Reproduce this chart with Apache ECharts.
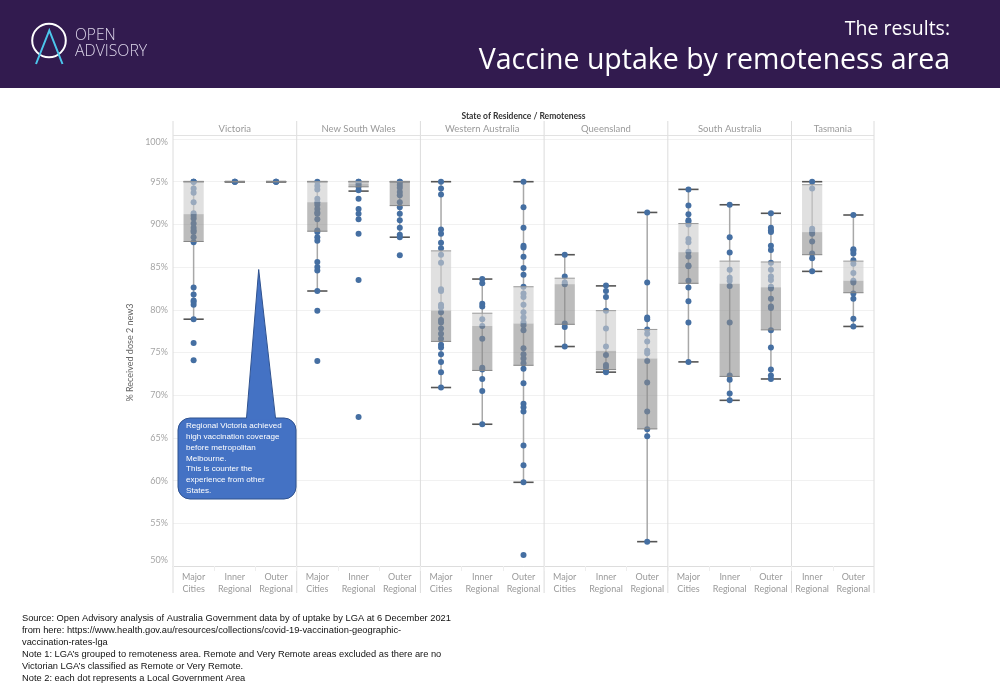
<!DOCTYPE html>
<html><head><meta charset="utf-8">
<script src="https://cdn.jsdelivr.net/npm/echarts@6/dist/echarts.min.js"></script>
<style>html,body{margin:0;padding:0;background:#fff}#c{width:1000px;height:694px}</style>
</head><body><div id="c"></div>
<script>
// ---------- data ----------
const states = ['Victoria', 'New South Wales', 'Western Australia', 'Queensland', 'South Australia', 'Tasmania'];
const stateColumnCounts = [3, 3, 3, 3, 3, 2];
const columnLabels = [
  'Major\nCities', 'Inner\nRegional', 'Outer\nRegional',
  'Major\nCities', 'Inner\nRegional', 'Outer\nRegional',
  'Major\nCities', 'Inner\nRegional', 'Outer\nRegional',
  'Major\nCities', 'Inner\nRegional', 'Outer\nRegional',
  'Major\nCities', 'Inner\nRegional', 'Outer\nRegional',
  'Inner\nRegional', 'Outer\nRegional'
];
const yTicks = [50, 55, 60, 65, 70, 75, 80, 85, 90, 95, 100];

// box plot statistics per column (same order as columnLabels)
const whiskerLow  = [78.9, 95, 95, 82.2, 93.9, 88.5, 70.9, 66.6, 59.8, 75.7, 72.7, 52.85, 73.9, 69.4, 71.9, 84.5, 78.05];
const boxQ1       = [88.0, 95, 95, 89.2, 94.4, 92.2, 76.3, 72.9, 73.5, 78.3, 73.0, 66.05, 83.1, 72.2, 77.65, 86.45, 82.0];
const boxMedian   = [91.2, 95, 95, 92.6, 94.8, 95.0, 79.9, 78.1, 78.4, 83.0, 75.2, 74.3, 86.75, 83.05, 82.65, 89.1, 83.4];
const boxQ3       = [95.0, 95, 95, 95.0, 95.0, 95.0, 86.9, 79.6, 82.7, 83.7, 79.9, 77.7, 90.1, 85.7, 85.6, 94.65, 85.7];
const whiskerHigh = [95.0, 95, 95, 95.0, 95.0, 95.0, 95.0, 83.6, 95.0, 86.45, 82.8, 91.4, 94.1, 92.3, 91.3, 95.0, 91.1];

// each value = one Local Government Area (% received dose 2)
const dotsVictoria = [
  [95, 95, 95, 94.2, 93.7, 92.6, 91.3, 91.0, 90.7, 90.1, 89.6, 89.3, 89.1, 88.5, 87.9, 82.6, 81.8, 81.1, 80.9, 80.6, 78.9, 76.1, 74.1],
  [95, 95, 95],
  [95, 95, 95]
];
const dotsNSW = [
  [95, 94.5, 94.1, 93.0, 92.6, 92.3, 91.8, 91.4, 91.25, 90.6, 89.3, 89.1, 88.5, 88.1, 85.6, 85.0, 84.6, 82.2, 79.9, 74.0],
  [95, 95, 94.7, 94.4, 94.0, 93.0, 91.8, 91.25, 90.6, 88.9, 83.5, 67.45],
  [95, 95, 94.6, 94.3, 93.8, 93.4, 92.6, 92.0, 91.25, 90.5, 89.6, 88.8, 88.5, 86.4]
];
const dotsWA = [
  [95, 94.2, 93.5, 89.4, 88.9, 87.85, 87.2, 86.45, 85.5, 82.4, 82.2, 80.6, 80.3, 79.7, 78.8, 78.5, 77.8, 77.2, 76.6, 75.9, 75.6, 74.8, 73.9, 72.7, 70.9],
  [83.6, 83.1, 80.7, 80.4, 78.9, 78.1, 76.6, 73.2, 73.0, 71.9, 70.5, 66.6],
  [95, 92.0, 89.6, 87.5, 87.3, 86.2, 84.9, 84.1, 82.7, 81.9, 81.5, 80.6, 79.7, 79.1, 78.5, 78.2, 77.6, 75.5, 74.8, 74.3, 73.75, 73.1, 71.4, 69.0, 68.6, 68.1, 64.1, 61.8, 59.8, 51.3]
];
const dotsQLD = [
  [86.45, 83.9, 83.2, 83.0, 78.4, 78.0, 75.7],
  [82.85, 82.2, 81.5, 79.9, 77.8, 75.7, 74.7, 73.55, 73.3, 72.9, 72.7],
  [91.4, 83.2, 79.1, 78.9, 77.7, 77.2, 76.3, 75.2, 74.9, 74.0, 71.5, 68.1, 66.0, 65.2, 52.85]
];
const dotsSA = [
  [94.1, 92.2, 91.2, 90.5, 90.3, 90.0, 88.3, 87.9, 86.8, 86.25, 85.2, 85.1, 83.4, 82.6, 81.0, 78.5, 73.9],
  [92.3, 88.5, 86.7, 84.7, 83.75, 83.4, 82.8, 78.5, 72.3, 71.8, 70.2, 69.4],
  [91.3, 89.6, 89.3, 89.1, 87.5, 87.0, 85.5, 84.7, 83.9, 83.5, 82.7, 82.5, 81.3, 80.4, 80.2, 77.6, 75.6, 73.0, 72.3, 71.9]
];
const dotsTAS = [
  [95, 94.2, 89.5, 89.2, 88.9, 88.0, 86.6, 86.05, 84.5],
  [91.1, 87.1, 86.9, 86.6, 85.8, 85.4, 84.3, 83.4, 83.2, 81.9, 81.3, 78.95, 78.05]
];

// ---------- build ----------
const allDots = [].concat(dotsVictoria, dotsNSW, dotsWA, dotsQLD, dotsSA, dotsTAS);
const scatterData = [];
allDots.forEach((col, i) => col.forEach(v => scatterData.push([i, v])));
const boxData = columnLabels.map((_, i) => [i, boxQ1[i], boxMedian[i], boxQ3[i], whiskerLow[i], whiskerHigh[i]]);
const stateStart = [];
let acc = 0;
stateColumnCounts.forEach(n => { stateStart.push(acc); acc += n; });
const headerData = states.map((s, k) => [stateStart[k], 100, stateColumnCounts[k]]);

const axisFont = 'Lato, "Open Sans", sans-serif';
const chart = echarts.init(document.getElementById('c'), null, { renderer: 'canvas' });

const option = {
  animation: false,
  backgroundColor: '#ffffff',
  grid: { left: 173, right: 126, top: 139, bottom: 128 },
  xAxis: {
    type: 'category',
    data: columnLabels.map((_, i) => 'c' + i),
    boundaryGap: true,
    axisLine: { show: true, lineStyle: { color: '#dddddd', width: 1 } },
    axisTick: { show: true, length: 5, lineStyle: { color: '#eeeeee' }, interval: 0 },
    axisLabel: {
      interval: 0, margin: 5, color: '#9a9a9a', fontSize: 9, lineHeight: 12, fontFamily: axisFont,
      formatter: (v, idx) => columnLabels[idx]
    },
    splitLine: { show: false }
  },
  yAxis: {
    type: 'value', min: yTicks[0], max: yTicks[yTicks.length - 1], interval: 5,
    name: '% Received dose 2 new3', nameLocation: 'middle', nameGap: 27,
    nameTextStyle: { color: '#666666', fontSize: 9, fontFamily: axisFont },
    axisLine: { show: false }, axisTick: { show: false },
    axisLabel: {
      margin: 5, color: '#a5a5a5', fontSize: 9, fontFamily: axisFont,
      formatter: v => v === 100 ? '{t|100%}' : (v === 50 ? '{b|50%}' : v + '%'),
      rich: {
        t: { padding: [6, 0, 0, 0], color: '#a5a5a5', fontSize: 9, fontFamily: axisFont },
        b: { padding: [0, 0, 12, 0], color: '#a5a5a5', fontSize: 9, fontFamily: axisFont }
      }
    },
    splitLine: { show: true, lineStyle: { color: '#f1f1f1', width: 1 } }
  },
  series: [
    {
      // panel frames & headers
      type: 'custom', z: 0, clip: false, silent: true,
      data: headerData,
      renderItem: (params, api) => {
        const start = api.value(0), count = api.value(2);
        const band = api.size([1, 0])[0];
        const p100 = api.coord([start, 100]);
        const p50 = api.coord([start, 50]);
        const xl = p100[0] - band / 2, xr = xl + count * band;
        const y100 = p100[1], y50 = p50[1];
        const children = [
          { type: 'line', shape: { x1: xl, y1: y100 - 18, x2: xl, y2: y50 + 27 }, style: { stroke: '#dcdcdc', lineWidth: 1 } },
          { type: 'line', shape: { x1: xl, y1: y100 - 3.5, x2: xr, y2: y100 - 3.5 }, style: { stroke: '#e2e2e2', lineWidth: 1 } },
          { type: 'text', style: { text: states[params.dataIndex], x: (xl + xr) / 2, y: y100 - 10, align: 'center', verticalAlign: 'middle', fill: '#9a9a9a', font: '9.5px ' + axisFont } }
        ];
        if (params.dataIndex === states.length - 1) {
          children.push({ type: 'line', shape: { x1: xr, y1: y100 - 18, x2: xr, y2: y50 + 27 }, style: { stroke: '#dcdcdc', lineWidth: 1 } });
        }
        return { type: 'group', children };
      }
    },
    {
      // whiskers and caps
      type: 'custom', z: 1, clip: false, silent: true,
      data: boxData,
      renderItem: (params, api) => {
        const x = api.value(0);
        const band = api.size([1, 0])[0];
        const hw = band * 0.245;
        const cx = api.coord([x, 80])[0];
        const yl = api.coord([x, api.value(4)])[1];
        const yh = api.coord([x, api.value(5)])[1];
        return {
          type: 'group', children: [
            { type: 'line', shape: { x1: cx, y1: yh, x2: cx, y2: yl }, style: { stroke: '#a8a8a8', lineWidth: 1.5 } },
            { type: 'line', shape: { x1: cx - hw, y1: yh, x2: cx + hw, y2: yh }, style: { stroke: '#555555', lineWidth: 1.6 } },
            { type: 'line', shape: { x1: cx - hw, y1: yl, x2: cx + hw, y2: yl }, style: { stroke: '#555555', lineWidth: 1.6 } }
          ]
        };
      }
    },
    {
      type: 'scatter', z: 2, symbol: 'circle', symbolSize: 6,
      itemStyle: { color: '#456fa2', opacity: 1 },
      data: scatterData, silent: true
    },
    {
      // boxes (drawn over dots with transparency)
      type: 'custom', z: 3, clip: false, silent: true,
      data: boxData,
      renderItem: (params, api) => {
        const x = api.value(0);
        const band = api.size([1, 0])[0];
        const hw = band * 0.245;
        const cx = api.coord([x, 80])[0];
        const yq1 = api.coord([x, api.value(1)])[1];
        const ym = api.coord([x, api.value(2)])[1];
        const yq3 = api.coord([x, api.value(3)])[1];
        return {
          type: 'group', children: [
            { type: 'rect', shape: { x: cx - hw, y: yq3, width: 2 * hw, height: Math.max(0, ym - yq3) }, style: { fill: 'rgba(205,205,205,0.62)' } },
            { type: 'rect', shape: { x: cx - hw, y: ym, width: 2 * hw, height: Math.max(0, yq1 - ym) }, style: { fill: 'rgba(140,140,140,0.58)' } },
            { type: 'line', shape: { x1: cx - hw, y1: yq3, x2: cx + hw, y2: yq3 }, style: { stroke: '#9a9a9a', lineWidth: 1 } },
            { type: 'line', shape: { x1: cx - hw, y1: yq1, x2: cx + hw, y2: yq1 }, style: { stroke: '#858585', lineWidth: 1 } }
          ]
        };
      }
    }
  ],
  graphic: [
    // header band
    { type: 'rect', z: 10, shape: { x: 0, y: 0, width: 1000, height: 88 }, style: { fill: '#321b4f' } },
    { type: 'circle', z: 11, shape: { cx: 49, cy: 40.5, r: 16.8 }, style: { fill: 'none', stroke: '#ffffff', lineWidth: 2 } },
    { type: 'polyline', z: 12, shape: { points: [[36, 64], [49.3, 30.5], [62.5, 64]] }, style: { fill: 'none', stroke: '#4cc6ec', lineWidth: 2 } },
    { type: 'text', z: 12, style: { text: 'OPEN', x: 75, y: 36, verticalAlign: 'middle', fill: '#ddd6ea', font: '300 15.5px "Open Sans", sans-serif' } },
    { type: 'text', z: 12, style: { text: 'ADVISORY', x: 75, y: 51.5, verticalAlign: 'middle', fill: '#ddd6ea', font: '300 15.8px "Open Sans", sans-serif' } },
    { type: 'text', z: 12, style: { text: 'The results:', x: 950, y: 29, align: 'right', verticalAlign: 'middle', fill: '#ffffff', font: '19.5px "Open Sans", sans-serif' } },
    { type: 'text', z: 12, style: { text: 'Vaccine uptake by remoteness area', x: 950, y: 61, align: 'right', verticalAlign: 'middle', fill: '#ffffff', font: '28.5px "Open Sans", sans-serif' } },
    // super header
    { type: 'text', z: 10, style: { text: 'State of Residence / Remoteness', x: 523.5, y: 116, align: 'center', verticalAlign: 'middle', fill: '#333333', font: 'bold 8.5px ' + axisFont } },
    // callout
    { type: 'rect', z: 20, shape: { x: 178, y: 418, width: 118, height: 81, r: 12 }, style: { fill: '#4472c4', stroke: '#2f528f', lineWidth: 1 } },
    { type: 'polygon', z: 21, shape: { points: [[246.5, 419.2], [258.7, 269.5], [275.5, 419.2]] }, style: { fill: '#4472c4' } },
    { type: 'polyline', z: 22, shape: { points: [[246.5, 418], [258.7, 269.5], [275.5, 418]] }, style: { fill: 'none', stroke: '#2f528f', lineWidth: 1 } },
    { type: 'text', z: 23, style: {
      text: 'Regional Victoria achieved\nhigh vaccination coverage\nbefore metropolitan\nMelbourne.\nThis is counter the\nexperience from other\nStates.',
      x: 186, y: 420.5, lineHeight: 10.8, fill: '#ffffff', font: '8.1px "Liberation Sans", sans-serif' } },
    // footer
    { type: 'text', z: 10, style: {
      text: 'Source: Open Advisory analysis of Australia Government data by of uptake by LGA at 6 December 2021\nfrom here: https://www.health.gov.au/resources/collections/covid-19-vaccination-geographic-\nvaccination-rates-lga\nNote 1: LGA\u2019s grouped to remoteness area. Remote and Very Remote areas excluded as there are no\nVictorian LGA\u2019s classified as Remote or Very Remote.\nNote 2: each dot represents a Local Government Area',
      x: 22, y: 612.3, lineHeight: 12, fill: '#111111', font: '9.3px "Liberation Sans", sans-serif' } }
  ]
};
chart.setOption(option);
</script>
</body></html>
